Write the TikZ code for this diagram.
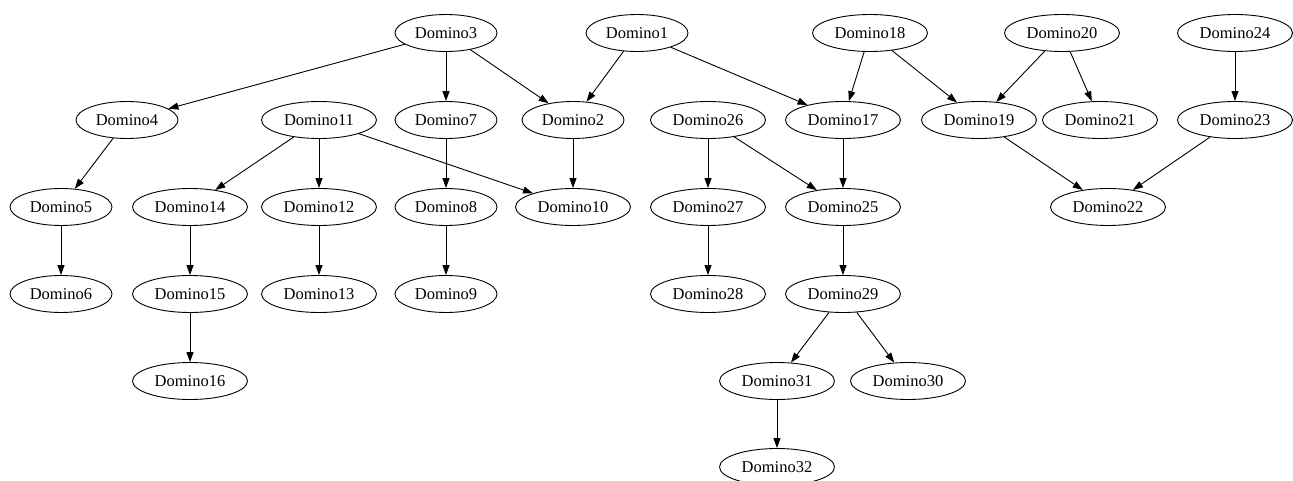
\documentclass[tikz,border=0pt]{standalone}
\usepackage{fontspec}
\setmainfont{Liberation Serif}
\usetikzlibrary{shapes.geometric,arrows.meta}
\begin{document}
\begin{tikzpicture}[x=1pt,y=-1pt,
  dn/.style={draw,ellipse,line width=0.9pt,minimum width=102pt,minimum height=37pt,inner sep=0pt,font=\fontsize{16.5}{19}\selectfont},
  dw/.style={dn,minimum width=115pt},
  ed/.style={draw,line width=0.9pt,-{Triangle[length=10pt,width=7pt]}}]
\useasboundingbox (0,0) rectangle (1293,481);
\node[dn] (d3) at (446,33) {Domino3};
\node[dn] (d1) at (637,33) {Domino1};
\node[dw] (d18) at (870,33) {Domino18};
\node[dw] (d20) at (1062,33) {Domino20};
\node[dw] (d24) at (1235,33) {Domino24};
\node[dn] (d4) at (127,120) {Domino4};
\node[dw] (d11) at (319,120) {Domino11};
\node[dn] (d7) at (446,120) {Domino7};
\node[dn] (d2) at (573,120) {Domino2};
\node[dw] (d26) at (708,120) {Domino26};
\node[dw] (d17) at (843,120) {Domino17};
\node[dw] (d19) at (979,120) {Domino19};
\node[dw] (d21) at (1100,120) {Domino21};
\node[dw] (d23) at (1235,120) {Domino23};
\node[dn] (d5) at (61,207) {Domino5};
\node[dw] (d14) at (190,207) {Domino14};
\node[dw] (d12) at (319,207) {Domino12};
\node[dn] (d8) at (446,207) {Domino8};
\node[dw] (d10) at (573,207) {Domino10};
\node[dw] (d27) at (708,207) {Domino27};
\node[dw] (d25) at (843,207) {Domino25};
\node[dw] (d22) at (1108,207) {Domino22};
\node[dn] (d6) at (61,294) {Domino6};
\node[dw] (d15) at (190,294) {Domino15};
\node[dw] (d13) at (319,294) {Domino13};
\node[dn] (d9) at (446,294) {Domino9};
\node[dw] (d28) at (708,294) {Domino28};
\node[dw] (d29) at (843,294) {Domino29};
\node[dw] (d16) at (190,381) {Domino16};
\node[dw] (d31) at (777,381) {Domino31};
\node[dw] (d30) at (908,381) {Domino30};
\node[dw] (d32) at (777,467) {Domino32};
\foreach \a/\b in {d3/d4,d3/d7,d3/d2,d1/d2,d1/d17,d18/d17,d18/d19,d20/d19,d20/d21,d24/d23,
  d4/d5,d11/d14,d11/d12,d11/d10,d7/d8,d2/d10,d26/d27,d26/d25,d17/d25,d19/d22,d23/d22,
  d5/d6,d14/d15,d12/d13,d8/d9,d27/d28,d25/d29,d15/d16,d29/d31,d29/d30,d31/d32}
  \draw[ed] (\a) -- (\b);
\end{tikzpicture}
\end{document}
